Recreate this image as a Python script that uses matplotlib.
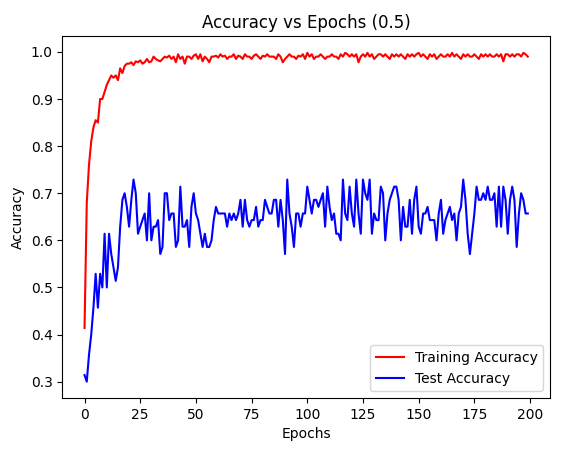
import matplotlib.pyplot as plt

# training accuracy per epoch
train_acc = [0.414, 0.68, 0.76, 0.81, 0.84, 0.855, 0.85, 0.90, 0.90, 0.915,
             0.93, 0.94, 0.95, 0.945, 0.95, 0.94, 0.965, 0.955, 0.97, 0.975,
             0.975, 0.978, 0.972, 0.98, 0.978, 0.982, 0.975, 0.978, 0.985, 0.978,
             0.98, 0.99, 0.985, 0.982, 0.98, 0.985, 0.99, 0.988, 0.992, 0.985,
             0.99, 0.978, 0.995, 0.985, 0.99, 0.975, 0.99, 0.99, 0.985, 0.992,
             0.995, 0.985, 0.995, 0.98, 0.99, 0.985, 0.978, 0.99, 0.99, 0.992,
             0.988, 0.995, 0.99, 0.992, 0.985, 0.99, 0.99, 0.995, 0.985, 0.992,
             0.99, 0.985, 0.995, 0.99, 0.99, 0.985, 0.992, 0.995, 0.99, 0.985,
             0.992, 0.99, 0.995, 0.99, 0.99, 0.99, 0.985, 0.995, 0.99, 0.978,
             0.985, 0.99, 0.995, 0.99, 0.99, 0.985, 0.992, 0.99, 0.995, 0.985,
             0.998, 0.99, 0.995, 0.985, 0.99, 0.99, 0.995, 0.99, 0.985, 0.99,
             0.99, 0.995, 0.99, 0.99, 0.985, 0.995, 0.99, 0.998, 0.995, 0.99,
             0.995, 0.99, 0.995, 0.978, 0.99, 0.995, 0.99, 0.998, 0.99, 0.995,
             0.985, 0.99, 0.995, 0.995, 0.99, 0.995, 0.99, 0.985, 0.995, 0.99,
             0.995, 0.99, 0.995, 0.99, 0.985, 0.995, 0.99, 0.995, 0.99, 0.995,
             0.998, 0.99, 0.995, 0.99, 0.985, 0.995, 0.99, 0.995, 0.985, 0.99,
             0.995, 0.99, 0.99, 0.995, 0.99, 0.998, 0.99, 0.995, 0.99, 0.985,
             0.995, 0.99, 0.995, 0.99, 0.99, 0.995, 0.99, 0.985, 0.995, 0.99,
             0.995, 0.99, 0.995, 0.99, 0.99, 0.995, 0.99, 0.995, 0.98, 0.995,
             0.995, 0.99, 0.995, 0.99, 0.995, 0.995, 0.99, 0.998, 0.995, 0.99]

# test accuracy per epoch
test_acc = [0.314, 0.30, 0.357, 0.40, 0.457, 0.529, 0.457, 0.529, 0.50, 0.614,
            0.50, 0.614, 0.571, 0.543, 0.514, 0.543, 0.629, 0.686, 0.70, 0.671,
            0.629, 0.686, 0.729, 0.70, 0.614, 0.629, 0.643, 0.657, 0.60, 0.70,
            0.60, 0.629, 0.629, 0.643, 0.571, 0.586, 0.70, 0.70, 0.643, 0.657,
            0.657, 0.586, 0.60, 0.714, 0.629, 0.629, 0.643, 0.586, 0.671, 0.70,
            0.657, 0.643, 0.614, 0.586, 0.614, 0.586, 0.586, 0.60, 0.643, 0.671,
            0.657, 0.657, 0.657, 0.657, 0.629, 0.657, 0.643, 0.657, 0.643, 0.657,
            0.686, 0.629, 0.686, 0.643, 0.629, 0.643, 0.643, 0.671, 0.629, 0.643,
            0.643, 0.686, 0.671, 0.657, 0.657, 0.686, 0.686, 0.629, 0.686, 0.643,
            0.571, 0.729, 0.657, 0.629, 0.586, 0.657, 0.657, 0.629, 0.657, 0.657,
            0.714, 0.686, 0.657, 0.686, 0.686, 0.671, 0.686, 0.70, 0.629, 0.714,
            0.671, 0.643, 0.657, 0.614, 0.614, 0.60, 0.729, 0.657, 0.643, 0.714,
            0.657, 0.629, 0.729, 0.657, 0.614, 0.729, 0.70, 0.686, 0.729, 0.614,
            0.657, 0.643, 0.643, 0.714, 0.70, 0.60, 0.657, 0.686, 0.70, 0.714,
            0.714, 0.686, 0.60, 0.671, 0.629, 0.629, 0.686, 0.614, 0.686, 0.714,
            0.629, 0.614, 0.657, 0.657, 0.671, 0.643, 0.643, 0.643, 0.60, 0.657,
            0.686, 0.614, 0.643, 0.657, 0.671, 0.643, 0.657, 0.600, 0.657, 0.671,
            0.729, 0.686, 0.614, 0.571, 0.614, 0.657, 0.714, 0.686, 0.686, 0.70,
            0.686, 0.714, 0.686, 0.686, 0.70, 0.629, 0.714, 0.629, 0.714, 0.686,
            0.614, 0.686, 0.714, 0.686, 0.586, 0.657, 0.70, 0.686, 0.657, 0.657]

epochs = list(range(len(train_acc)))

plt.figure(figsize=(5.67, 4.55), dpi=100)
plt.plot(epochs, train_acc, color='red', label='Training Accuracy')
plt.plot(epochs, test_acc, color='blue', label='Test Accuracy')
plt.xlabel('Epochs')
plt.ylabel('Accuracy')
plt.title('Accuracy vs Epochs (0.5)')
plt.legend(loc='lower right')
plt.subplots_adjust(left=0.11, right=0.97, bottom=0.125, top=0.92)
plt.savefig('out.png')
